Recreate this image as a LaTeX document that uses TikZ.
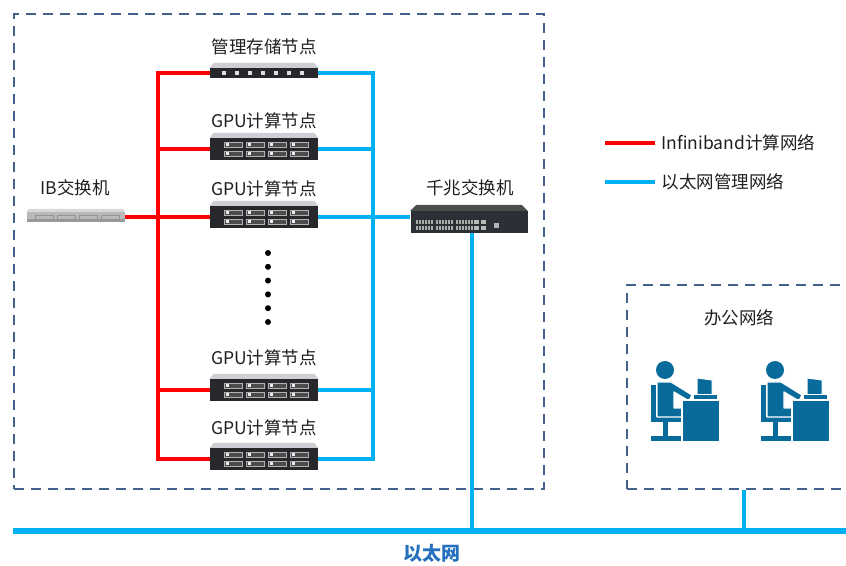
\documentclass[tikz,border=0pt]{standalone}
\usepackage{fontspec}
\setmainfont{Noto Sans CJK SC}
\usetikzlibrary{calc}

\definecolor{ibred}{RGB}{255,0,0}
\definecolor{ethblue}{RGB}{0,176,240}
\definecolor{zoneblue}{RGB}{68,96,140}
\definecolor{staffblue}{RGB}{8,107,155}
\definecolor{busblue}{RGB}{36,112,190}
\definecolor{srvbody}{RGB}{38,40,44}
\definecolor{srvtop}{RGB}{205,207,212}
\definecolor{swbody}{RGB}{44,48,54}

\tikzset{
    zone/.style = {
    	draw,
    	dash pattern=on 10pt off 7pt,
    	line width=2pt,
    	zoneblue
    },
    ib/.style = {
    	line width=4.5pt,
    	ibred
    },
    eth/.style = {
    	line width=4.5pt,
    	ethblue
    },
    caption/.style = {
    	font=\fontsize{17.5}{20}\selectfont,
    	text=black!88
    },
    gpu/.style = {
    	rectangle, fill=srvbody, inner sep=0pt,
    	minimum width=108pt, minimum height=22pt,
    	path picture={
    		\foreach \c in {0,...,3} \foreach \r in {0,1}
    			\draw[gray!60, line width=.6pt, fill=black!70]
    			($(path picture bounding box.north west)+(14+22*\c,-4-9*\r)$) rectangle ++(18,-5);
    		\foreach \c in {0,...,3} \foreach \r in {0,1}
    			\fill[gray!15]
    			($(path picture bounding box.north west)+(16+22*\c,-5-9*\r)$) rectangle ++(3,-3);
    	}
    },
    storage/.style = {
    	rectangle, fill=srvbody, inner sep=0pt,
    	minimum width=108pt, minimum height=10pt,
    	path picture={
    		\foreach \c in {0,...,6}
    			\fill[gray!25]
    			($(path picture bounding box.south west)+(12+13*\c,3)$) rectangle ++(4,4);
    	}
    },
    ibswitch/.style = {
    	rectangle, fill=gray!55, inner sep=0pt,
    	minimum width=98pt, minimum height=10pt,
    	path picture={
    		\fill[gray!80] (path picture bounding box.south west) rectangle ++(98,3);
    		\foreach \c in {0,...,3}
    			\draw[gray!85, line width=.5pt]
    			($(path picture bounding box.south west)+(8+22*\c,3)$) rectangle ++(18,4);
    	}
    },
    gbswitch/.style = {
    	rectangle, fill=swbody, inner sep=0pt,
    	minimum width=117pt, minimum height=22pt,
    	path picture={
    		\foreach \c in {0,...,17} \foreach \r in {0,1}
    			\fill[gray!65]
    			($(path picture bounding box.south west)+({5+3*\c+2*floor(\c/6)},{3+6*\r})$) rectangle ++(2,4);
    		\foreach \c in {0,1} \foreach \r in {0,1}
    			\fill[gray!55]
    			($(path picture bounding box.south west)+(63+7*\c,3+6*\r)$) rectangle ++(5,4);
    		\fill[gray!60] ($(path picture bounding box.south west)+(83,5)$) rectangle ++(5,5);
    	}
    },
    staff/.pic = {
    	% silla
    	\fill[staffblue] (-14,-15) rectangle (-9,-51);
    	\fill[staffblue] (-14,-47) rectangle (18,-52);
    	\fill[staffblue] (-2,-52) rectangle (3,-66);
    	\fill[staffblue] (-14,-66) rectangle (16,-71);
    	% persona
    	\fill[staffblue] (0,0) circle (9);
    	\filldraw[staffblue, draw=white, line width=1.2pt, line join=round]
    		(-8,-12) -- (6,-12) -- (27,-25) -- (24,-31) -- (9,-22) -- (9,-38)
    		-- (17,-38) -- (17,-47) -- (-8,-47) -- cycle;
    	% monitor y mesa
    	\filldraw[staffblue, draw=white, line width=1pt] (32,-8) -- (47,-10) -- (47,-25) -- (32,-25) -- cycle;
    	\filldraw[staffblue, draw=white, line width=1pt] (28,-25) rectangle (52,-30);
    	\filldraw[staffblue, draw=white, line width=1.2pt] (17,-30) rectangle (55,-72);
    }
}

\begin{document}
\begin{tikzpicture}[x=1pt, y=1pt]

	\path[use as bounding box, clip] (0,0) rectangle (846,565);

	% Coordenadas importantes
	\coordinate (ibx) at (158,0);
	\coordinate (ethx) at (373,0);
	\coordinate (busw) at (13,34);
	\coordinate (buse) at (846,34);
	\coordinate (drop) at (472,34);

	% Zonas
	\node[zone, anchor=north west, minimum width=530pt, minimum height=475pt] (cluster) at (13,552) {};
	\node[zone, anchor=north west, minimum width=234pt, minimum height=204pt] (office) at (626,281) {};

	% Servidores
	\node[storage] (mgmt) at (264,492) {};
	\node[gpu] (gpu1) at (264,416) {};
	\node[gpu] (gpu2) at (264,348) {};
	\node[gpu] (gpu3) at (264,175) {};
	\node[gpu] (gpu4) at (264,106) {};

	\foreach \s in {mgmt,gpu1,gpu2,gpu3,gpu4}
		\fill[srvtop] (\s.north west) -- ++(4,5) -- ($(\s.north east)+(-4,5)$) -- (\s.north east) -- cycle;

	\node[caption] (mgmttxt) at ($(mgmt)+(0,26)$) {管理存储节点};
	\node[caption] (gpu1txt) at ($(gpu1)+(0,28)$) {GPU计算节点};
	\node[caption] (gpu2txt) at ($(gpu2)+(0,28)$) {GPU计算节点};
	\node[caption] (gpu3txt) at ($(gpu3)+(0,32)$) {GPU计算节点};
	\node[caption] (gpu4txt) at ($(gpu4)+(0,31)$) {GPU计算节点};

	\foreach \i in {0,...,5}
		\fill (268,312-13.8*\i) circle (3);

	% Conmutadores
	\node[ibswitch] (ibsw) at (76,348) {};
	\fill[gray!30] (ibsw.north west) -- ++(2,3) -- ($(ibsw.north east)+(-2,3)$) -- (ibsw.north east) -- cycle;
	\node[caption] (ibtxt) at (75,377) {IB交换机};

	\node[gbswitch] (gbsw) at (469,343) {};
	\fill[black!70] (gbsw.north west) -- ++(6,6) -- ($(gbsw.north east)+(-6,6)$) -- (gbsw.north east) -- cycle;
	\node[caption] (gbtxt) at (470,377) {千兆交换机};

	% Red Infiniband
	\draw[ib] (mgmt.west) -| (ibx |- gpu4) -- (gpu4.west);
	\draw[ib] (gpu1.west) -- (gpu1.west -| ibx);
	\draw[ib] (gpu3.west) -- (gpu3.west -| ibx);
	\draw[ib] (ibsw.east) -- (gpu2.west);

	% Red de gestion
	\draw[eth] (mgmt.east) -| (ethx |- gpu4) -- (gpu4.east);
	\draw[eth] (gpu1.east) -- (gpu1.east -| ethx);
	\draw[eth] (gpu3.east) -- (gpu3.east -| ethx);
	\draw[eth] (gpu2.east) -- (gpu2.east -| gbsw.west);

	% Ethernet
	\draw[eth, line width=5.5pt] (busw) -- (buse);
	\draw[eth] (gbsw.south -| drop) -- (drop);
	\draw[eth] (office.south) -- (office.south |- drop);
	\node[font=\fontsize{19}{22}\selectfont\bfseries, text=busblue] (ethtxt) at (432,12) {以太网};

	% Oficina
	\node[caption] (officetxt) at (739,247) {办公网络};
	\pic (staffa) at (665,195) {staff};
	\pic (staffb) at (775,195) {staff};

	% Leyenda
	\coordinate (legib) at (605,422);
	\coordinate (legeth) at (605,383);
	\draw[ib] (legib) -- ++(50,0) node[caption, right, xshift=1pt] (legibtxt) {Infiniband计算网络};
	\draw[eth] (legeth) -- ++(50,0) node[caption, right, xshift=1pt] (legethtxt) {以太网管理网络};

\end{tikzpicture}
\end{document}
